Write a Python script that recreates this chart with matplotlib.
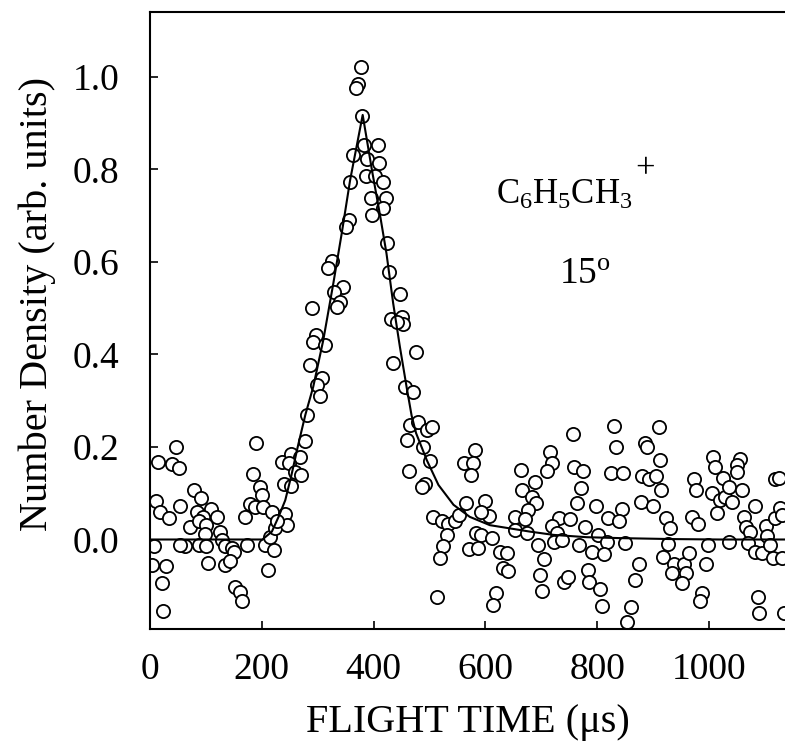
import matplotlib
matplotlib.use('Agg')
from matplotlib import pyplot as plt

plt.rcParams['font.family'] = ['Liberation Serif', 'DejaVu Serif']
plt.rcParams['mathtext.fontset'] = 'custom'
plt.rcParams['mathtext.rm'] = 'Liberation Serif'
plt.rcParams['mathtext.it'] = 'Liberation Serif:italic'
plt.rcParams['mathtext.default'] = 'regular'

# measured points (flight time in us, number density in arb. units)
tof = [46, 15, 40, 51, 78, 10, 18, 34, 54, 92, 84, 110, 95, 119, 72, 87, 101, 125, 98, 128,
       8, 63, 54, 87, 101, 134, 147, 151, 3, 29, 104, 134, 143, 21, 152, 161, 164, 24,
       190, 185, 197, 200, 179, 170, 188, 203, 218, 173, 206, 221, 211, 215, 224, 242, 245, 227,
       236, 253, 268, 248, 259, 271, 239, 253, 277, 280,
       377, 373, 368, 380, 383, 407, 364, 389, 410, 386, 403, 416, 358, 395, 422, 417, 398, 356,
       351, 424, 325, 319, 428, 345, 329, 340, 335, 447, 289, 431, 450, 453, 441, 297, 292, 313,
       476, 286, 434, 307, 299, 304, 456, 471,
       465, 480, 495, 504, 460, 489, 501, 463, 492, 486, 581, 561, 578, 574, 664, 665, 565, 599,
       607, 593, 507, 522, 534, 546, 552, 531, 524, 519, 584, 593, 611, 570, 587, 626, 638, 632,
       641, 653, 653, 674, 619, 613, 513,
       689, 683, 691, 677, 671, 715, 719, 710, 756, 759, 775, 771, 763, 798, 830, 834, 824, 847,
       844, 820, 839, 886, 890, 910, 912, 880, 893, 905, 915, 878, 899, 732, 751, 719, 728, 722,
       737, 695, 705, 697, 701, 740, 747, 778, 768, 790, 802, 817, 812, 783, 786, 805, 808, 850,
       874, 867, 861, 853, 923, 930, 927, 918, 938, 934, 955, 965, 959, 951, 969, 981, 973, 977,
       999, 995, 987, 984, 1008, 1011, 1005, 1014,
       1025, 1020, 1029, 1036, 1042, 1056, 1050, 1051, 1059, 1035, 1062, 1066, 1073, 1069, 1082,
       1082, 1094, 1102, 1103, 1110, 1114, 1118, 1127, 1118, 1126, 1130, 1088, 1090, 1134, 1130]
density = [0.199, 0.168, 0.164, 0.155, 0.108, 0.083, 0.060, 0.047, 0.072, 0.089, 0.060, 0.067,
           0.049, 0.048, 0.026, 0.041, 0.031, 0.017, 0.011, -0.001,
           -0.015, -0.015, -0.012, -0.012, -0.015, -0.015, -0.019, -0.028, -0.055, -0.057, -0.050,
           -0.055, -0.046, -0.095, -0.103, -0.114, -0.134, -0.155,
           0.208, 0.142, 0.113, 0.096, 0.077, 0.048, 0.071, 0.070, 0.060, -0.011, -0.012, -0.023,
           -0.067, 0.006, 0.024, 0.055, 0.031, 0.039,
           0.168, 0.184, 0.178, 0.165, 0.147, 0.139, 0.121, 0.116, 0.212, 0.269,
           1.021, 0.985, 0.976, 0.916, 0.854, 0.853, 0.832, 0.822, 0.813, 0.786, 0.787, 0.772,
           0.774, 0.738, 0.738, 0.716, 0.701, 0.691,
           0.675, 0.642, 0.603, 0.588, 0.578, 0.545, 0.536, 0.514, 0.503, 0.531, 0.500, 0.476,
           0.480, 0.465, 0.471, 0.442, 0.428, 0.421,
           0.405, 0.377, 0.382, 0.350, 0.334, 0.310, 0.330, 0.318,
           0.248, 0.255, 0.237, 0.244, 0.215, 0.199, 0.170, 0.149, 0.119, 0.113, 0.194, 0.165,
           0.166, 0.139, 0.150, 0.107, 0.078, 0.083,
           0.051, 0.060, 0.048, 0.041, 0.034, 0.039, 0.053, 0.010, -0.013, -0.039, 0.013, 0.010,
           0.003, -0.021, -0.019, -0.026, -0.030, -0.062,
           -0.068, 0.049, 0.021, 0.013, -0.115, -0.142, -0.124,
           0.125, 0.091, 0.078, 0.064, 0.044, 0.190, 0.165, 0.148, 0.228, 0.157, 0.148, 0.112,
           0.078, 0.072, 0.245, 0.201, 0.143, 0.143,
           0.065, 0.046, 0.041, 0.209, 0.199, 0.244, 0.171, 0.137, 0.130, 0.137, 0.107, 0.082,
           0.072, 0.046, 0.044, 0.029, 0.015, -0.005,
           0.000, -0.012, -0.042, -0.077, -0.111, -0.091, -0.082, 0.026, -0.012, -0.026, 0.010,
           -0.005, -0.031, -0.066, -0.091, -0.108, -0.144, -0.008,
           -0.052, -0.088, -0.147, -0.178, 0.046, 0.024, -0.010, -0.037, -0.052, -0.073, -0.052,
           -0.030, -0.073, -0.093, 0.049, 0.033, 0.130, 0.106,
           -0.012, -0.052, -0.116, -0.134, 0.179, 0.157, 0.100, 0.057,
           0.132, 0.085, 0.091, 0.113, 0.082, 0.173, 0.161, 0.147, 0.107, -0.005, 0.049, 0.028,
           0.017, -0.008, 0.072,
           -0.026, -0.030, 0.029, 0.008, -0.012, -0.041, 0.046, 0.069, 0.130, 0.134, 0.053,
           -0.124, -0.158, -0.158, -0.041]

# fitted curve
fit_tof = [0, 201, 218, 230, 242, 253, 265, 278, 292, 310, 328, 343, 358, 380.5, 397, 412,
           423, 435, 447, 459, 468, 476, 495, 516, 543, 572, 608, 644, 680, 722, 781, 841,
           930, 1020, 1136]
fit_density = [0, 0, 0.017, 0.049, 0.085, 0.139, 0.204, 0.27, 0.33, 0.431, 0.554, 0.662,
               0.777, 0.918, 0.799, 0.698, 0.619, 0.511, 0.417, 0.330, 0.268, 0.230, 0.172,
               0.118, 0.075, 0.049, 0.031, 0.024, 0.017, 0.010, 0.005, 0.003, 0.001, 0.0, 0.0]

fig = plt.figure(figsize=(7.85, 7.55), dpi=100)
ax = fig.add_axes([150 / 785, 126 / 755, 635 / 785, 617 / 755])

ax.plot(fit_tof, fit_density, color='black', lw=1.5, zorder=3)
ax.plot(tof, density, 'o', ms=9.5, mfc='white', mec='black', mew=1.3, zorder=2)

ax.set_xlim(0, 1136)
ax.set_ylim(-0.1935, 1.1405)
ax.set_xticks([0, 200, 400, 600, 800, 1000])
ax.set_yticks([0.0, 0.2, 0.4, 0.6, 0.8, 1.0])
ax.set_yticklabels(['0.0', '0.2', '0.4', '0.6', '0.8', '1.0'])
ax.tick_params(direction='in', length=6, width=1.2, labelsize=27)
ax.tick_params(axis='x', pad=17)
ax.tick_params(axis='y', pad=22)
ax.spines['right'].set_visible(False)
for s in ['left', 'top', 'bottom']:
    ax.spines[s].set_linewidth(1.5)

ax.set_xlabel('FLIGHT TIME (\u03bcs)', fontsize=29, labelpad=12)
ax.set_ylabel('Number Density (arb. units)', fontsize=29)
ax.yaxis.set_label_coords(-0.148, 0.527)

ax.text(742, 0.745, r'C$_6$H$_5$CH$_3$', fontsize=25, ha='center', va='center')
ax.text(885, 0.80, '+', fontsize=25, ha='center', va='center')
ax.text(778, 0.572, r'15$^{o}$', fontsize=27, ha='center', va='center')

fig.savefig('out.png', dpi=100)
